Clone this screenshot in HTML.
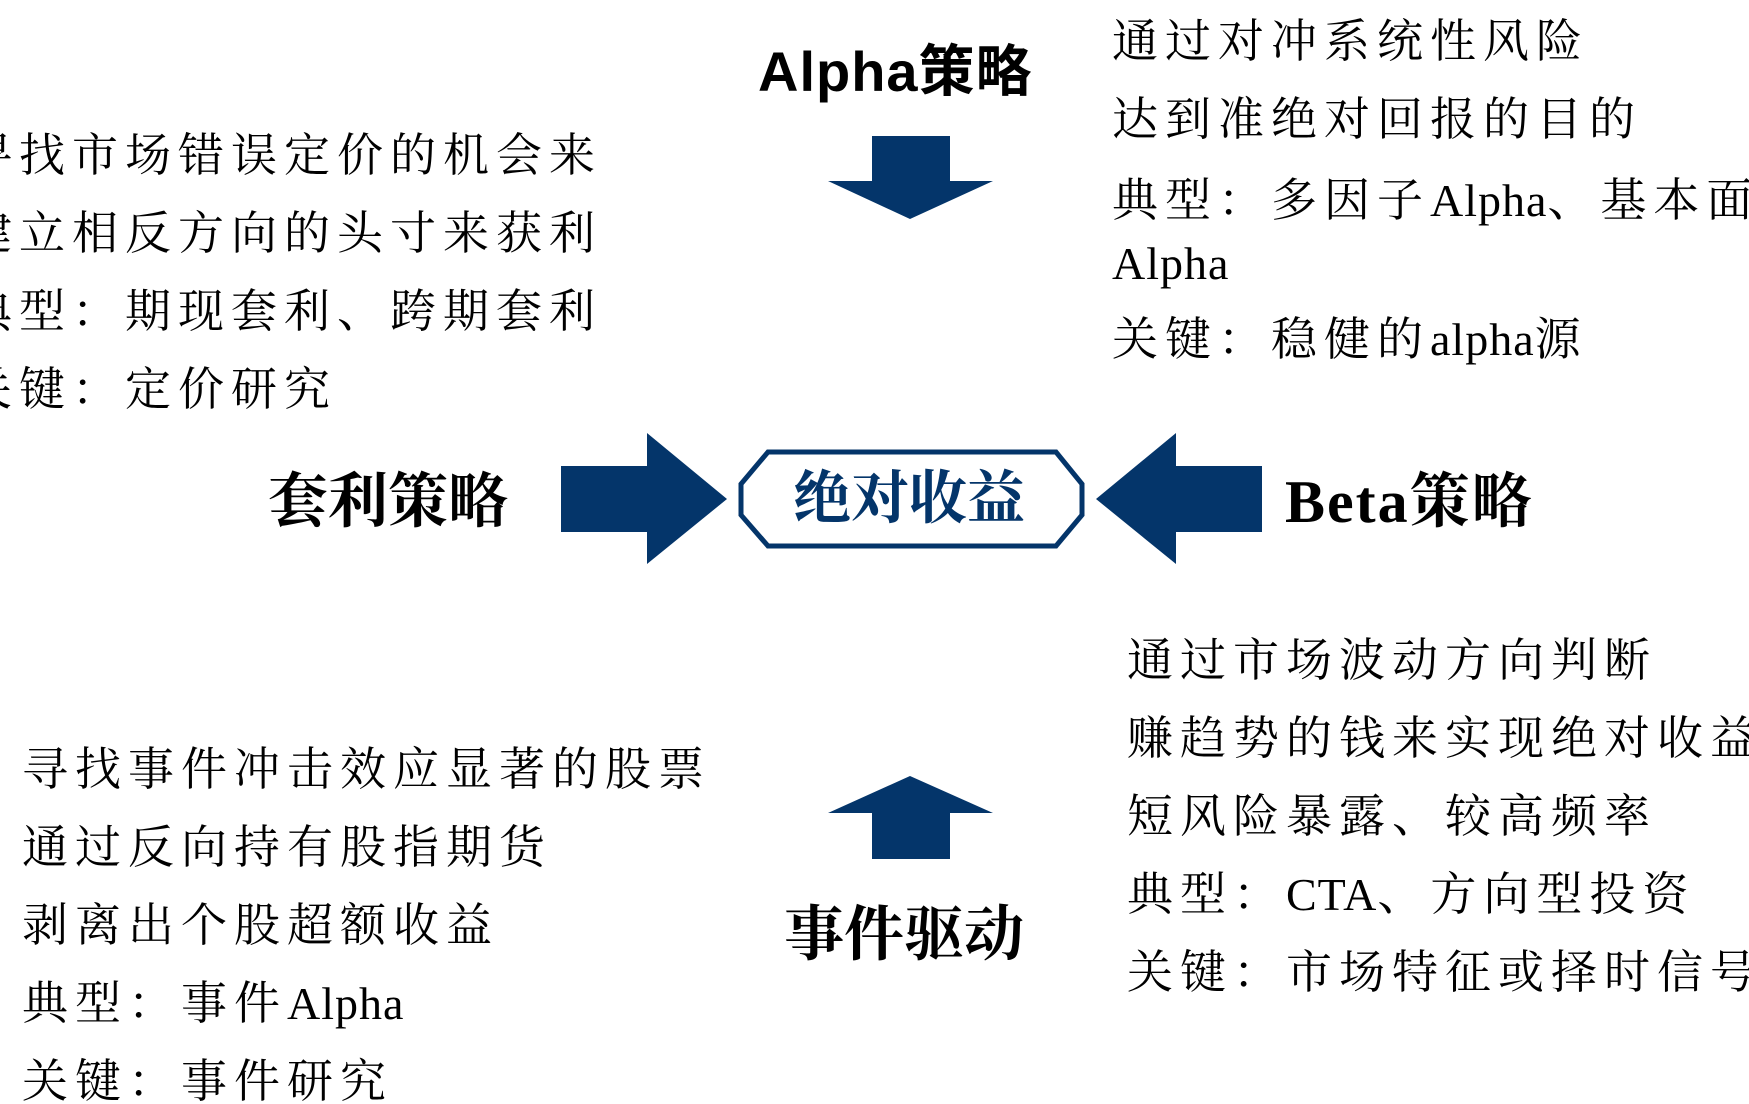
<!DOCTYPE html>
<html><head><meta charset="utf-8"><style>
html,body{margin:0;padding:0;background:#fff;width:1749px;height:1104px;overflow:hidden;position:relative}
.t{position:absolute;white-space:nowrap;font-family:"Liberation Serif","Noto Serif CJK SC",serif;font-size:46px;letter-spacing:7px;line-height:78px;color:#000}
.l{letter-spacing:1px}
.h{position:absolute;white-space:nowrap;font-family:"Liberation Sans","Noto Sans CJK SC",sans-serif;font-weight:bold;font-size:54px;line-height:60px;color:#000}
</style></head><body>
<svg width="1749" height="1104" style="position:absolute;left:0;top:0">
<g fill="#04356a">
<polygon points="561,466 647,466 647,433 727,499 647,564 647,532 561,532"/>
<polygon points="1262,466 1176,466 1176,433 1096,499 1176,564 1176,532 1262,532"/>
<polygon points="872,136 950,136 950,181 993,181 910,219 828,181 872,181"/>
<polygon points="872,859 950,859 950,813 993,813 910,776 828,813 872,813"/>
</g>
<polygon points="768,452 1056,452 1082,484 1082,515 1056,546 768,546 741,515 741,484" fill="#fff" stroke="#04356a" stroke-width="5"/>
</svg>
<div class="h" style="left:758px;top:42px;font-size:56px;letter-spacing:1px">Alpha策略</div>
<div class="h" style="left:268px;top:472px;font-family:'Liberation Serif','Noto Serif CJK SC',serif;font-size:60px">套利策略</div>
<div class="h" style="left:1285px;top:472px;font-family:'Liberation Serif','Noto Serif CJK SC',serif;font-size:60px;letter-spacing:2px">Beta策略</div>
<div class="h" style="left:784px;top:905px;font-family:'Liberation Serif','Noto Serif CJK SC',serif;font-size:60px">事件驱动</div>
<div class="h" style="left:793px;top:469px;font-family:'Liberation Serif','Noto Serif CJK SC',serif;font-size:58px;color:#04356a">绝对收益</div>
<div class="t" style="left:1112px;top:3px">通过对冲系统性风险</div>
<div class="t" style="left:1112px;top:81px">达到准绝对回报的目的</div>
<div class="t" style="left:1112px;top:162px">典型：多因子<span class="l">Alpha</span>、基本面</div>
<div class="t" style="left:1112px;top:225px"><span class="l">Alpha</span></div>
<div class="t" style="left:1112px;top:301px">关键：稳健的<span class="l">alpha</span>源</div>
<div class="t" style="left:-34px;top:117px">寻找市场错误定价的机会来<br>建立相反方向的头寸来获利<br>典型：期现套利、跨期套利<br>关键：定价研究</div>
<div class="t" style="left:22px;top:731px">寻找事件冲击效应显著的股票<br>通过反向持有股指期货<br>剥离出个股超额收益<br>典型：事件<span class="l">Alpha</span><br>关键：事件研究</div>
<div class="t" style="left:1127px;top:622px">通过市场波动方向判断<br>赚趋势的钱来实现绝对收益<br>短风险暴露、较高频率<br>典型：<span class="l">CTA</span>、方向型投资<br>关键：市场特征或择时信号</div>
</body></html>
